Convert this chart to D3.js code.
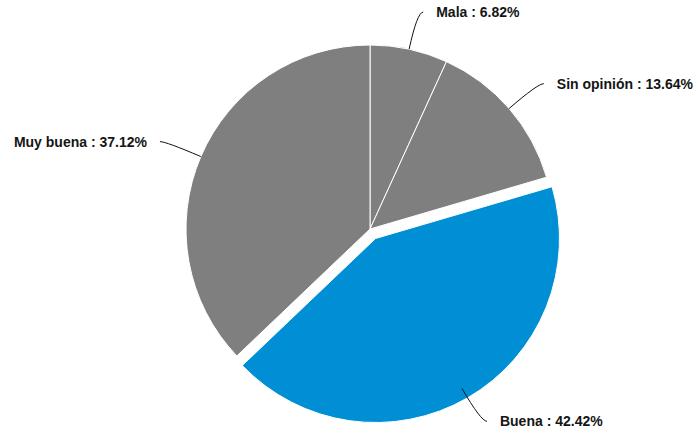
<html>
<head>
<meta charset="utf-8">
<script src="https://cdn.jsdelivr.net/npm/d3@7"></script>
<style>
    body { margin: 0; background: #fff; }
    text { font-family: "Liberation Sans", Arial, sans-serif; font-weight: bold; font-size: 14px; fill: #151515; }
</style>
</head>
<body>
    <svg id="container" height="436" width="695">
        <g id="body" transform="translate(370,229)"></g>
    </svg>
<script>
    let categories = ["Mala", "Sin opinión", "Buena", "Muy buena"]
    let values = [6.82, 13.64, 42.42, 37.12]
    let colors = ["#7f7f7f", "#7f7f7f", "#008fd5", "#7f7f7f"]
    let exploded = ["Buena"]

    let body = d3.select("#body")
    let radius = 184

    let pie = d3.pie().sort(null).value(d => d.value)
    let arcs = pie(categories.map((c, i) => ({ name: c, value: values[i], color: colors[i] })))

    let arc = d3.arc().innerRadius(0).outerRadius(radius)

    // point on a circle of radius r at the given angle (0 = 12 o'clock)
    function pt(a, r) { return [Math.sin(a) * r, -Math.cos(a) * r] }

    body.selectAll("path.slice")
        .data(arcs)
        .enter().append("path")
        .attr("class", "slice")
        .attr("d", arc)
        .attr("fill", d => d.data.color)
        .attr("stroke", "#fff")
        .attr("stroke-width", 1)
        .attr("transform", d => {
            if (!exploded.includes(d.data.name)) return null
            let m = pt((d.startAngle + d.endAngle) / 2, 11)
            return `translate(${m[0]},${m[1]})`
        })

    // connectors, curved like the original
    arcs.forEach(d => {
        let mid = (d.startAngle + d.endAngle) / 2
        let right = Math.sin(mid) > 0
        let s = pt(mid, radius)
        let c = pt(mid, 222)
        let e = [c[0] + (right ? 6 : -6), c[1]]
        body.append("path")
            .attr("d", `M${s[0]},${s[1]} Q${c[0]},${c[1]} ${e[0]},${e[1]}`)
            .attr("fill", "none")
            .attr("stroke", "#111")
            .attr("stroke-width", 1)

        body.append("text")
            .attr("x", e[0] + (right ? 13 : -13))
            .attr("y", e[1] + 5)
            .attr("text-anchor", right ? "start" : "end")
            .text(`${d.data.name} : ${d.data.value.toFixed(2)}%`)
    })
</script>
</body>
</html>
